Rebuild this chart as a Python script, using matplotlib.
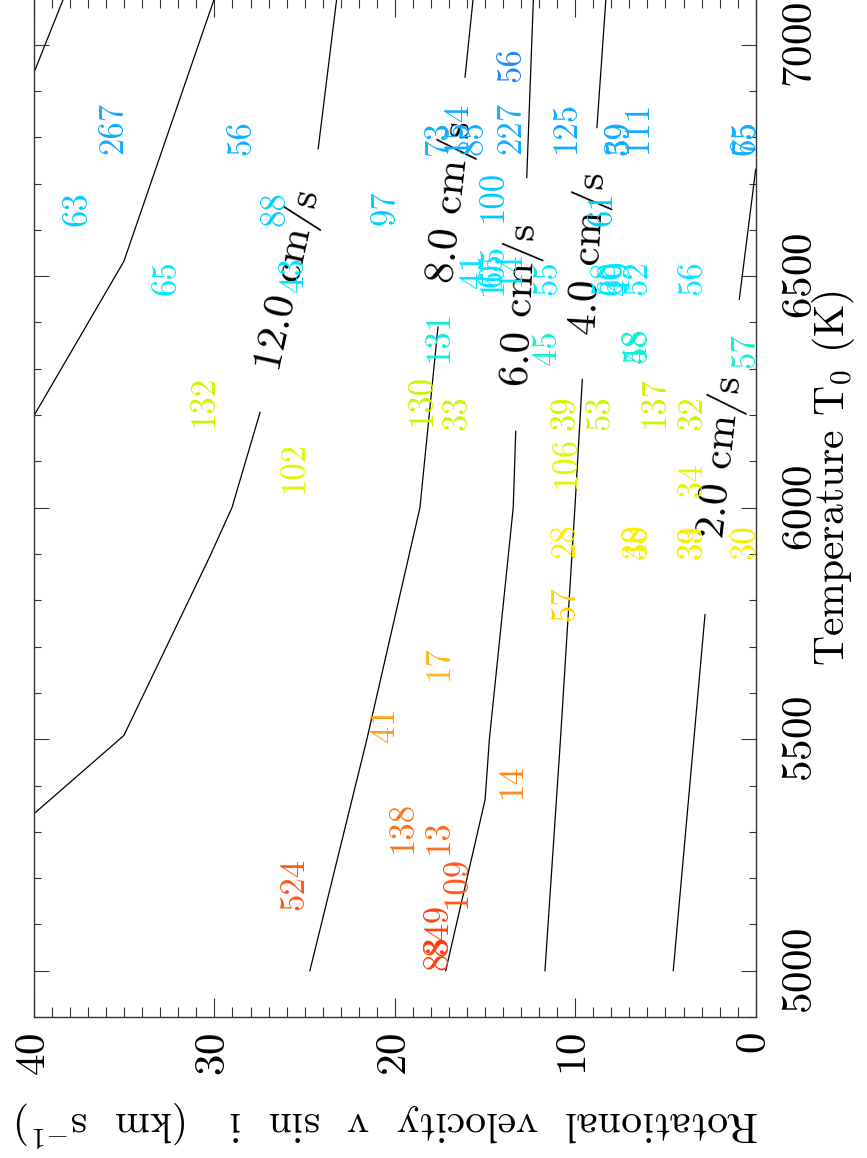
import math
import matplotlib
matplotlib.use('Agg')
import matplotlib.pyplot as plt
from matplotlib.colors import LinearSegmentedColormap, Normalize
from matplotlib.ticker import MultipleLocator

plt.rcParams['font.family'] = ['cmr10', 'DejaVu Serif']
plt.rcParams['mathtext.fontset'] = 'cm'
plt.rcParams['axes.formatter.use_mathtext'] = True

# jitter contours (cm/s): lower piece up to the label, upper piece after it
C2_LO_V = [4.57, 2.81]
C2_LO_T = [5000, 5769]
C2_HI_V = [0.91, 0.0]
C2_HI_T = [6450, 6731]

C4_LO_V = [11.68, 10.82, 10.02, 9.61]
C4_LO_T = [5000, 5500, 6000, 6277]
C4_HI_V = [8.80, 8.30]
C4_HI_T = [6821, 7100]

C6_LO_V = [17.18, 15.0, 14.76, 13.44, 13.30]
C6_LO_T = [5000, 5369, 5500, 6000, 6165]
C6_HI_V = [12.69, 12.32]
C6_HI_T = [6713, 7100]

C8_LO_V = [24.71, 21.55, 18.61, 17.61]
C8_LO_T = [5000, 5500, 6000, 6390]
C8_HI_V = [16.11, 15.66]
C8_HI_T = [6930, 7100]

C12_LO_V = [40.0, 35.02, 30.25, 29.03, 27.47]
C12_LO_T = [5339, 5508, 5895, 6000, 6206]
C12_HI_V = [24.25, 23.22]
C12_HI_T = [6775, 7100]

C14_V = [40.0, 35.02, 30.0]
C14_T = [6199, 6532, 7100]

C16_V = [40.0, 38.36]
C16_T = [6940, 7100]

# star groups: number of stars, vsini (km/s), Teff (K)
N_STARS = ["524", "138", "13", "109", "83", "849", "41", "17", "14",
           "57", "28", "38", "40", "33", "39", "30", "34", "32", "137",
           "53", "106", "39", "130", "33", "132", "102", "131", "45",
           "48", "58", "57", "56", "55", "58", "49", "52", "43", "65",
           "88", "97", "63", "61", "100", "267", "56", "73", "154", "85",
           "227", "56", "125", "39", "59", "111", "75", "65",
           "41", "105", "65", "14", "60"]
VSINI = [25.59, 19.52, 17.56, 16.53, 17.56, 17.56, 20.55, 17.56, 13.51,
         10.54, 10.54, 6.55, 6.55, 3.50, 3.50, 0.54, 3.50, 3.50, 5.58,
         8.58, 10.52, 10.52, 18.50, 16.53, 30.58, 25.59, 17.56, 11.54,
         6.55, 6.55, 0.59, 3.50, 11.54, 8.35, 7.52, 6.58, 25.59, 32.63,
         26.59, 20.49, 37.59, 8.46, 14.56, 35.57, 28.53, 17.56, 16.53, 15.62,
         13.56, 13.56, 10.52, 7.55, 7.55, 6.52, 0.54, 0.54,
         15.60, 14.56, 14.56, 13.56, 7.90]
TEFF = [5187, 5311, 5289, 5192, 5040, 5088, 5531, 5665, 5410,
        5793, 5929, 5927, 5927, 5927, 5927, 5927, 6061, 6206, 6228,
        6206, 6098, 6206, 6232, 6206, 6230, 6089, 6370, 6346,
        6349, 6349, 6340, 6498, 6498, 6498, 6498, 6498, 6504, 6498,
        6645, 6649, 6645, 6645, 6673, 6820, 6800, 6798, 6822, 6800,
        6820, 6956, 6822, 6800, 6800, 6822, 6800, 6800,
        6511, 6515, 6515, 6517, 6498]

# temperature colour scale for the star labels
TEMP_NODES = [4950, 5200, 5450, 5700, 5900, 6100, 6250, 6340, 6500, 6650,
              6800, 7000]
TEMP_COLORS = ["#ff2800", "#ff5a1e", "#ff9418", "#ffbc14", "#ffec00",
               "#e0f800", "#c4f800", "#10f0d0", "#00e8ff", "#00ccff",
               "#10b0ff", "#2a7cff"]


def draw_contour(ax, v_lo, t_lo, v_hi, t_hi, level):
    ax.plot(v_lo, t_lo, color='black', lw=0.9)
    if v_hi is None:
        return
    ax.plot(v_hi, t_hi, color='black', lw=0.9)
    # label sits in the gap, turned along the line
    p1 = ax.transData.transform((v_lo[-1], t_lo[-1]))
    p2 = ax.transData.transform((v_hi[0], t_hi[0]))
    angle = math.degrees(math.atan2(p2[1] - p1[1], p2[0] - p1[0]))
    vm = 0.5 * (v_lo[-1] + v_hi[0])
    tm = 0.5 * (t_lo[-1] + t_hi[0])
    ax.text(vm, tm, f"{level:.1f} cm/s", rotation=angle,
            rotation_mode='anchor', ha='center', va='center',
            fontsize=31, color='black')


def main():
    fig = plt.figure(figsize=(8.67, 11.58), dpi=100)
    ax = fig.add_axes([34 / 867, 141 / 1158, 721.7 / 867, 1018.6 / 1158])

    ax.set_xlim(40, 0)
    ax.set_ylim(4900, 7100)

    ax.xaxis.set_major_locator(MultipleLocator(10))
    ax.xaxis.set_minor_locator(MultipleLocator(1))
    ax.yaxis.set_major_locator(MultipleLocator(500))
    ax.yaxis.set_minor_locator(MultipleLocator(100))
    ax.tick_params(which='both', direction='in', top=True, bottom=True,
                   left=True, right=True, labelleft=False, labelright=True,
                   width=0.8, color='#333333')
    ax.tick_params(axis='x', which='major', length=14, labelsize=31,
                   labelrotation=90, pad=11)
    ax.tick_params(axis='x', which='minor', length=7)
    ax.tick_params(axis='y', which='major', length=11, labelsize=31,
                   labelrotation=90, pad=19)
    ax.tick_params(axis='y', which='minor', length=5)
    for lbl in ax.get_yticklabels():
        lbl.set_va('center')
    for sp in ax.spines.values():
        sp.set_linewidth(1.0)
        sp.set_color('#333333')

    ax.set_xlabel("Rotational  velocity  v  sin  i   (km  s$^{-1}$)",
                  rotation=180, fontsize=30, va='center')
    ax.xaxis.set_label_coords(0.49, -0.104)
    ax.yaxis.set_label_position('right')
    ax.set_ylabel("Temperature T$_0$ (K)", rotation=90, fontsize=30,
                  va='center')
    ax.yaxis.set_label_coords(1.108, 0.529)

    draw_contour(ax, C2_LO_V, C2_LO_T, C2_HI_V, C2_HI_T, 2.0)
    draw_contour(ax, C4_LO_V, C4_LO_T, C4_HI_V, C4_HI_T, 4.0)
    draw_contour(ax, C6_LO_V, C6_LO_T, C6_HI_V, C6_HI_T, 6.0)
    draw_contour(ax, C8_LO_V, C8_LO_T, C8_HI_V, C8_HI_T, 8.0)
    draw_contour(ax, C12_LO_V, C12_LO_T, C12_HI_V, C12_HI_T, 12.0)
    draw_contour(ax, C14_V, C14_T, None, None, 14.0)
    draw_contour(ax, C16_V, C16_T, None, None, 16.0)

    cmap = LinearSegmentedColormap.from_list(
        'teff', list(zip([(t - TEMP_NODES[0]) / (TEMP_NODES[-1] - TEMP_NODES[0])
                          for t in TEMP_NODES], TEMP_COLORS)))
    norm = Normalize(TEMP_NODES[0], TEMP_NODES[-1])
    for n, v, t in zip(N_STARS, VSINI, TEFF):
        ax.text(v, t, n, rotation=90, ha='center', va='center',
                fontsize=25, color=cmap(norm(t)))

    fig.savefig('out.png', dpi=100)


if __name__ == "__main__":
    main()
